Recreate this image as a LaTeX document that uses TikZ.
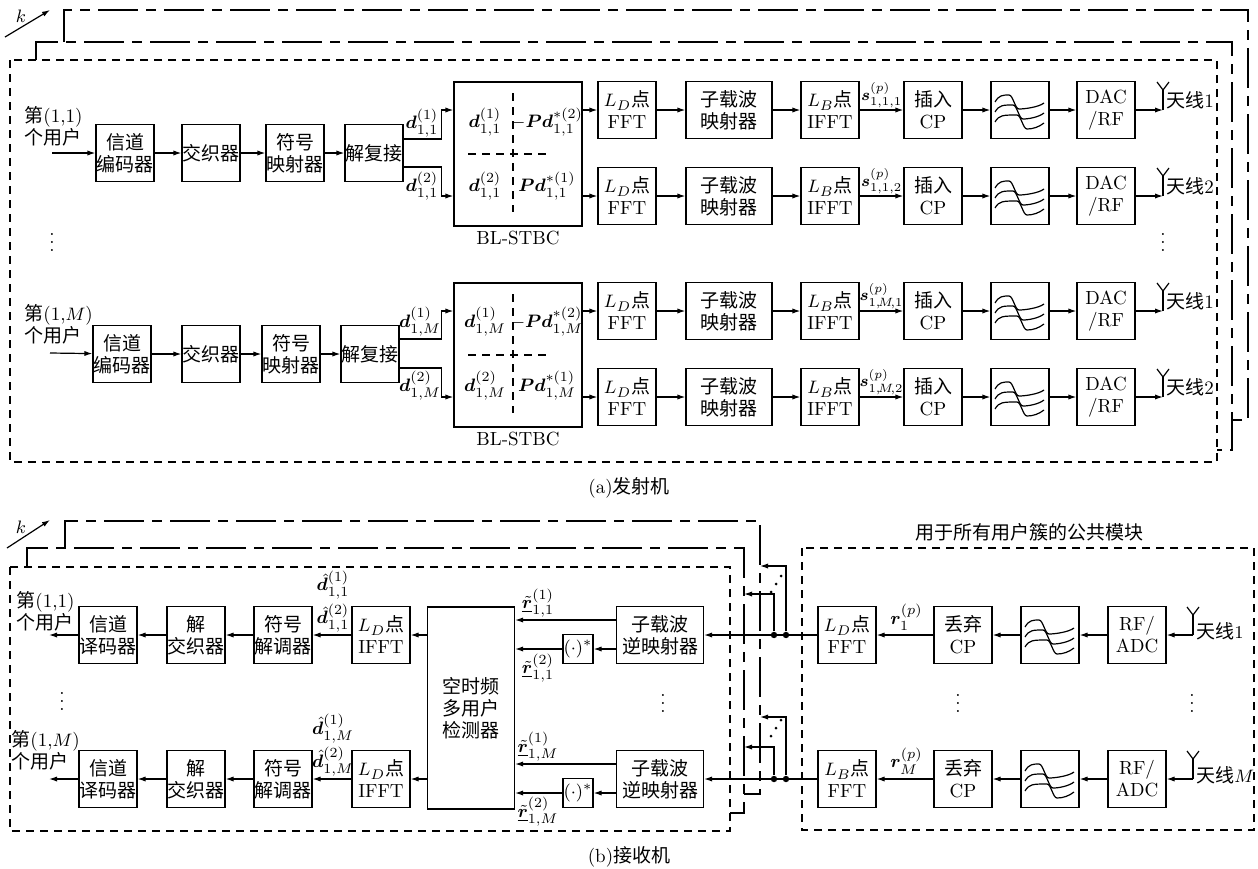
\documentclass[tikz,border=0pt]{standalone}
\usepackage{amsmath,bm}
\usepackage{fontspec}
\newfontfamily\zhfont{Noto Sans CJK SC}
\newcommand\zh[1]{{\zhfont #1}}
\usetikzlibrary{arrows.meta,calc}
\newcommand\filtsym[1]{%
  \begin{scope}[shift={(#1.center)}]
    \foreach \L/\d in {-15/-11,-5/-7,5/-3}{
      \draw[line width=0.6pt] (-25,\L+7) .. controls (-21,\L) and (-17,\L) .. (\d,\L) .. controls (\d+4,\L) and (\d+6,\L+14) .. (\d+10,\L+14) .. controls (\d+16,\L+14) and (19,\L+12) .. (24,\L+8);
    }
  \end{scope}}
\newcommand\antT[1]{%
  \draw[line width=0.6pt] (#1) -- ($(#1)+(0,-21)$);
  \draw[line width=0.6pt] ($(#1)+(-6,-28)$) -- ($(#1)+(0,-20)$) -- ($(#1)+(6,-28)$);}
\newcommand\ddd[1]{%
  \fill ($(#1)+(-5,8)$) circle (0.75pt) ($(#1)$) circle (0.75pt) ($(#1)+(5,-8)$) circle (0.75pt);}
\begin{document}
\begin{tikzpicture}[x=0.5pt,y=-0.5pt,font=\fontsize{9.5}{11}\selectfont,
  blk/.style={draw,line width=0.6pt,minimum width=29pt,minimum height=28.5pt,inner sep=0pt,align=center},
  wblk/.style={blk,minimum width=43pt},
  arr/.style={-{Latex[length=4pt,width=2.6pt]},line width=0.6pt},
  dsh/.style={line width=0.6pt,dash pattern=on 4pt off 3pt},
  ldsh/.style={line width=0.6pt,dash pattern=on 20pt off 4pt on 5pt off 4pt},
  lbl/.style={inner sep=0pt},
  jdot/.style={circle,fill,inner sep=0pt,minimum size=3.2pt}]
\useasboundingbox (0,0) rectangle (1258,868);

% ================= Transmitter =================
\draw[dsh] (10,60) rectangle (1217,462);
\draw[ldsh] (36,60) -- (36,42) -- (1232,42) -- (1232,450) -- (1217,450);
\draw[ldsh] (64,42) -- (64,10) -- (1248,10) -- (1248,420) -- (1232,420);
\coordinate (kTa) at (5,37); \coordinate (kTb) at (50,10);
\draw[arr] (kTa) -- (kTb);
\node[lbl] (kT) at (21,16) {$k$};

% user (1,1)
\node[lbl,anchor=west,align=left] (uT1) at (24,126) {\zh{第}(1,1)\\\zh{个用户}};
\coordinate (inT1) at (52,153);
\node[blk] (enc1) at (125,153) {\zh{信道}\\\zh{编码器}};
\node[blk] (itl1) at (211,153) {\zh{交织器}};
\node[blk] (map1) at (295,153) {\zh{符号}\\\zh{映射器}};
\node[blk] (dmx1) at (374,153) {\zh{解复接}};
\draw[arr] (inT1) -- (enc1);
\draw[arr] (enc1) -- (itl1);
\draw[arr] (itl1) -- (map1);
\draw[arr] (map1) -- (dmx1);

% user (1,M)
\node[lbl,anchor=west,align=left] (uT2) at (24,324) {\zh{第}(1,$M$)\\\zh{个用户}};
\coordinate (inT2) at (50,353);
\node[blk] (enc2) at (122,354) {\zh{信道}\\\zh{编码器}};
\node[blk] (itl2) at (211,354) {\zh{交织器}};
\node[blk] (map2) at (291,354) {\zh{符号}\\\zh{映射器}};
\node[blk] (dmx2) at (370,354) {\zh{解复接}};
\draw[arr] (inT2) -- (enc2);
\draw[arr] (enc2) -- (itl2);
\draw[arr] (itl2) -- (map2);
\draw[arr] (map2) -- (dmx2);

\node[lbl] (dotsTL) at (52,236) {$\vdots$};
\node[lbl] (dotsTR) at (1163,236) {$\vdots$};

% antenna chains
\foreach \r/\y/\a/\s in {1/110/1/{1,1,1},2/196/2/{1,1,2},3/311/1/{1,\!M\!,1},4/397/2/{1,\!M\!,2}}{
  \node[blk] (fft\r) at (627,\y) {$L_D$\zh{点}\\FFT};
  \node[wblk] (sub\r) at (729,\y) {\zh{子载波}\\\zh{映射器}};
  \node[blk] (ifft\r) at (830,\y) {$L_B$\zh{点}\\IFFT};
  \node[blk] (cp\r) at (933,\y) {\zh{插入}\\CP};
  \node[blk] (flt\r) at (1020,\y) {};
  \node[blk] (dac\r) at (1106,\y) {DAC\\/RF};
  \coordinate (at\r) at (1163,\y);
  \draw[arr] (fft\r) -- (sub\r);
  \draw[arr] (sub\r) -- (ifft\r);
  \draw[arr] (ifft\r) -- (cp\r);
  \draw[arr] (cp\r) -- (flt\r);
  \draw[arr] (flt\r) -- (dac\r);
  \draw[arr] (dac\r) -- (at\r);
  \filtsym{flt\r}
  \antT{at\r}
  \node[lbl,anchor=west] (atl\r) at ($(at\r)+(3,-10)$) {\zh{天线}\a};
  \node[lbl,font=\fontsize{8.5}{10}\selectfont] (sl\r) at ($(ifft\r.east)+(22,-15)$) {$\bm{s}^{(p)}_{\s}$};
}

% BL-STBC blocks
\node[draw,line width=0.6pt,minimum width=64pt,minimum height=72pt,inner sep=0pt] (stbc1) at (518,154) {};
\node[draw,line width=0.6pt,minimum width=64pt,minimum height=72pt,inner sep=0pt] (stbc2) at (518,355) {};
\node[lbl,anchor=north] (bl1) at ($(stbc1.south)+(0,4)$) {BL-STBC};
\node[lbl,anchor=north] (bl2) at ($(stbc2.south)+(0,4)$) {BL-STBC};
\draw[dsh] (513,93) -- (513,212);
\draw[dsh] (468,154) -- (550,154);
\draw[dsh] (513,294) -- (513,413);
\draw[dsh] (468,355) -- (550,355);
\node[lbl] (e11) at (485,122) {$\bm{d}^{(1)}_{1,1}$};
\node[lbl] (e12) at (547,122) {$-\bm{P}\bm{d}^{*(2)}_{1,1}$};
\node[lbl] (e13) at (485,186) {$\bm{d}^{(2)}_{1,1}$};
\node[lbl] (e14) at (547,186) {$\bm{P}\bm{d}^{*(1)}_{1,1}$};
\node[lbl] (e21) at (485,322) {$\bm{d}^{(1)}_{1,M}$};
\node[lbl] (e22) at (547,322) {$-\bm{P}\bm{d}^{*(2)}_{1,M}$};
\node[lbl] (e23) at (485,386) {$\bm{d}^{(2)}_{1,M}$};
\node[lbl] (e24) at (547,386) {$\bm{P}\bm{d}^{*(1)}_{1,M}$};

\draw[arr] ($(dmx1.east)+(0,-14)$) -- ++(38,0) |- (stbc1.west |- fft1.west);
\draw[arr] ($(dmx1.east)+(0,14)$) -- ++(38,0) |- (stbc1.west |- fft2.west);
\draw[arr] ($(dmx2.east)+(0,-15)$) -- ++(42,0) |- (stbc2.west |- fft3.west);
\draw[arr] ($(dmx2.east)+(0,14)$) -- ++(42,0) |- (stbc2.west |- fft4.west);
\draw[arr] (stbc1.east |- fft1.west) -- (fft1.west);
\draw[arr] (stbc1.east |- fft2.west) -- (fft2.west);
\draw[arr] (stbc2.east |- fft3.west) -- (fft3.west);
\draw[arr] (stbc2.east |- fft4.west) -- (fft4.west);
\node[lbl] (dl1) at (422,123) {$\bm{d}^{(1)}_{1,1}$};
\node[lbl] (dl2) at (422,186) {$\bm{d}^{(2)}_{1,1}$};
\node[lbl] (dl3) at (420,322) {$\bm{d}^{(1)}_{1,M}$};
\node[lbl] (dl4) at (420,386) {$\bm{d}^{(2)}_{1,M}$};

\node (capA) at (629,488) {(a)\zh{发射机}};

% ================= Receiver =================
\draw[dsh] (10,567) rectangle (730,831);
\draw[ldsh] (27,567) -- (27,548) -- (744,548) -- (744,813) -- (730,813);
\draw[ldsh] (65,548) -- (65,521) -- (760,521) -- (760,794) -- (744,794);
\draw[dsh] (802,548) rectangle (1254,830);
\node (cmt) at (1029,532) {\zh{用于所有用户簇的公共模块}};
\coordinate (kRa) at (7,548); \coordinate (kRb) at (50,520);
\draw[arr] (kRa) -- (kRb);
\node[lbl] (kR) at (21,527) {$k$};

\node[draw,line width=0.6pt,minimum width=43.5pt,minimum height=101pt,inner sep=0pt,align=center] (det) at (471,708) {\zh{空时频}\\\zh{多用户}\\\zh{检测器}};

\foreach \r/\y/\u/\L in {1/635/{1,1}/D,2/779/{1,M}/B}{
  \node[blk] (dec\r) at (108,\y) {\zh{信道}\\\zh{译码器}};
  \node[blk] (dit\r) at (196,\y) {\zh{解}\\\zh{交织器}};
  \node[blk] (dmd\r) at (283,\y) {\zh{符号}\\\zh{解调器}};
  \node[blk] (ifr\r) at (381,\y) {$L_D$\zh{点}\\IFFT};
  \node[wblk,minimum width=43.5pt] (sr\r) at (660,\y) {\zh{子载波}\\\zh{逆映射器}};
  \node[draw,line width=0.6pt,minimum width=15pt,minimum height=14.5pt,inner sep=0pt] (cj\r) at (578,\y+14) {$(\cdot)^*$};
  \node[blk] (fr\r) at (847,\y) {$L_\L$\zh{点}\\FFT};
  \node[blk] (cr\r) at (963,\y) {\zh{丢弃}\\CP};
  \node[blk] (fl\r) at (1050,\y) {};
  \node[blk] (ad\r) at (1137,\y) {RF/\\ADC};
  \coordinate (ar\r) at (1193,\y);
  \coordinate (out\r) at (49,\y);
  \coordinate (sa\r) at ($(sr\r.west)+(0,-15)$);
  \node[jdot] (ja\r) at (774,\y) {};
  \node[jdot] (jb\r) at (786,\y) {};
  \filtsym{fl\r}
  \antT{ar\r}
  \draw[arr] (ar\r) -- (ad\r);
  \draw[arr] (ad\r) -- (fl\r);
  \draw[arr] (fl\r) -- (cr\r);
  \draw[arr] (cr\r) -- (fr\r);
  \draw[arr] (fr\r) -- (sr\r);
  \draw[arr] (sa\r) -- (det.east |- sa\r);
  \draw[arr] (sr\r.west |- cj\r) -- (cj\r);
  \draw[arr] (cj\r) -- (det.east |- cj\r);
  \draw[arr] (det.west |- ifr\r) -- (ifr\r);
  \draw[arr] (ifr\r) -- (dmd\r);
  \draw[arr] (dmd\r) -- (dit\r);
  \draw[arr] (dit\r) -- (dec\r);
  \draw[arr] (dec\r) -- (out\r);
  \node[lbl,anchor=west] (arl\r) at ($(ar\r)+(3,-4)$) {\zh{天线}$\ifnum\r=1 1\else M\fi$};
  \node[lbl] (rl\r) at ($(cr\r.west)+(-27,-18)$) {$\bm{r}^{(p)}_{\ifnum\r=1 1\else M\fi}$};
  \node[lbl] (rt\r) at (538,\y-32) {$\underline{\tilde{\bm{r}}}^{(1)}_{\u}$};
  \node[lbl] (rb\r) at (538,\y+33) {$\underline{\tilde{\bm{r}}}^{(2)}_{\u}$};
  \node[lbl] (ha\r) at (333,\y-50) {$\hat{\bm{d}}^{(1)}_{\u}$};
  \node[lbl] (hb\r) at (333,\y-17) {$\hat{\bm{d}}^{(2)}_{\u}$};
  \coordinate (dd\r) at (776,\y-51);
  \ddd{dd\r}
}
\node[lbl,anchor=west,align=left] (uR1) at (16,611) {\zh{第}(1,1)\\\zh{个用户}};
\node[lbl,anchor=west,align=left] (uR2) at (11,750) {\zh{第}(1,$M$)\\\zh{个用户}};
\coordinate (ba1) at (744,594); \coordinate (bb1) at (760,566);
\coordinate (ba2) at (744,747); \coordinate (bb2) at (760,717);
\draw[arr] (ja1) |- (ba1);
\draw[arr] (jb1) |- (bb1);
\draw[arr] (ja2) |- (ba2);
\draw[arr] (jb2) |- (bb2);

\node[lbl] (dotsR1) at (62,695) {$\vdots$};
\node[lbl] (dotsR2) at (663,697) {$\vdots$};
\node[lbl] (dotsR3) at (958,697) {$\vdots$};
\node[lbl] (dotsR4) at (1192,697) {$\vdots$};

\node (capB) at (629,857) {(b)\zh{接收机}};
\end{tikzpicture}
\end{document}
